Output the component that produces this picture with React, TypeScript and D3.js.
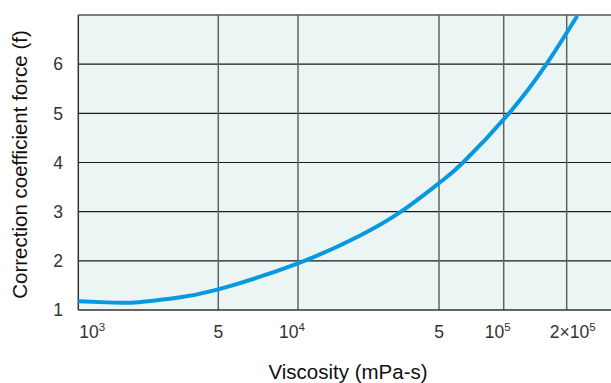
import React from "react";
import * as d3 from "d3";

// Data
const viscosity = [1e3, 1.5e3, 2e3, 3e3, 5e3, 1e4, 2e4, 3.24e4, 5e4, 6.47e4, 1.06e5, 1.6e5, 2.23e5];
const coefficient = [1.18, 1.15, 1.16, 1.24, 1.42, 1.95, 2.5, 3.0, 3.58, 4.0, 5.0, 6.0, 6.96];

// Axis grid values (reference diagram is not perfectly logarithmic)
const xGridValues = [1e3, 5e3, 1e4, 5e4, 1e5, 2e5];
const xTickLabels = [
  { v: 1e3, base: "10", sup: "3" },
  { v: 5e3, base: "5", sup: "" },
  { v: 1e4, base: "10", sup: "4" },
  { v: 5e4, base: "5", sup: "" },
  { v: 1e5, base: "10", sup: "5" },
  { v: 2e5, base: "2×10", sup: "5" },
];
const yTicks = [1, 2, 3, 4, 5, 6];

const W = 611;
const H = 383;
const left = 78.3;
const top = 15;
const bottom = 310;
const right = 625;

export default function App() {
  // piecewise log scale to follow the hand-drawn grid spacing
  const x = d3
    .scaleLog()
    .domain(xGridValues)
    .range([78.3, 218.3, 298, 439, 503.7, 566.7]);
  const y = d3.scaleLinear().domain([1, 7]).range([bottom, top]);

  const line = d3
    .line<number>()
    .x((_, i) => x(viscosity[i]))
    .y((d) => y(d))
    .curve(d3.curveNatural);

  const font = "'Liberation Sans', Arial, Helvetica, sans-serif";
  const textColor = "#333";

  return (
    <svg
      width={W}
      height={H}
      style={{ position: "absolute", left: 0, top: 0, display: "block" }}
    >
      <defs>
        <clipPath id="plot">
          <rect x={left} y={top} width={right - left} height={bottom - top} />
        </clipPath>
      </defs>
      <rect x={left} y={top} width={right - left} height={bottom - top} fill="#ebf5f4" />
      {/* horizontal grid */}
      {yTicks.slice(1).map((t) => (
        <line key={"h" + t} x1={left} x2={right} y1={y(t)} y2={y(t)} stroke="#1a1a1a" strokeWidth={1.2} />
      ))}
      {/* vertical grid */}
      {xGridValues.slice(1).map((v) => (
        <line key={"v" + v} x1={x(v)} x2={x(v)} y1={top} y2={bottom} stroke="#5f6464" strokeWidth={1.5} />
      ))}
      {/* border */}
      <line x1={left} x2={right} y1={top} y2={top} stroke="#555" strokeWidth={1.5} />
      <line x1={left} x2={right} y1={bottom} y2={bottom} stroke="#333" strokeWidth={1.5} />
      <line x1={left} x2={left} y1={top} y2={bottom} stroke="#333" strokeWidth={1.5} />
      {/* curve */}
      <path
        d={line(coefficient) || ""}
        fill="none"
        stroke="#0799e0"
        strokeWidth={4}
        strokeLinecap="round"
        clipPath="url(#plot)"
      />
      {/* y tick labels */}
      {yTicks.map((t) => (
        <text
          key={"yl" + t}
          x={63}
          y={y(t)}
          dy="0.36em"
          textAnchor="end"
          fontFamily={font}
          fontSize={17.5}
          fill={textColor}
        >
          {t}
        </text>
      ))}
      {/* x tick labels */}
      {xTickLabels.map((t, i) => {
        const px = x(t.v);
        let anchor: "start" | "middle" = "middle";
        let dx = 0;
        if (i === 0) {
          anchor = "start";
          dx = 1;
        } else if (t.sup && t.base === "10") {
          dx = -6;
        } else if (t.sup) {
          dx = 6;
        }
        return (
          <text
            key={"xl" + t.v}
            x={px + dx}
            y={338}
            textAnchor={anchor}
            fontFamily={font}
            fontSize={17.5}
            fill={textColor}
          >
            {t.base}
            {t.sup && (
              <tspan fontSize={11.5} dy={-7}>
                {t.sup}
              </tspan>
            )}
          </text>
        );
      })}
      {/* axis titles */}
      <text
        x={348}
        y={379}
        textAnchor="middle"
        fontFamily={font}
        fontSize={20.5}
        fill="#111"
      >
        Viscosity (mPa-s)
      </text>
      <text
        transform={`translate(27, ${(top + bottom) / 2 + 2}) rotate(-90)`}
        textAnchor="middle"
        fontFamily={font}
        fontSize={20.5}
        fill="#111"
      >
        Correction coefficient force (f)
      </text>
    </svg>
  );
}
